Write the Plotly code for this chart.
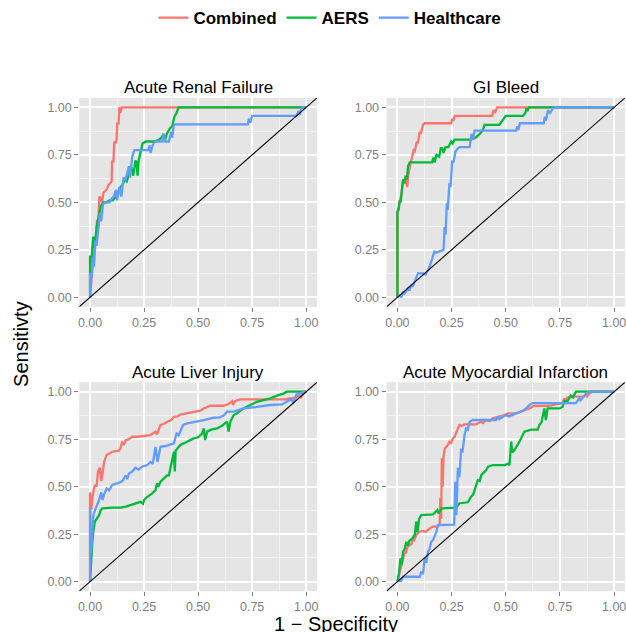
import plotly.graph_objects as go

# ---------------- data ----------------
series_names = ["Combined", "AERS", "Healthcare"]
series_colors = ["#F8766D", "#00BA38", "#619CFF"]
panel_titles = ["Acute Renal Failure", "GI Bleed", "Acute Liver Injury", "Acute Myocardial Infarction"]
tick_values = [0, 0.25, 0.5, 0.75, 1.0]
tick_labels = ["0.00", "0.25", "0.50", "0.75", "1.00"]
minor_grid_values = [0.125, 0.375, 0.625, 0.875]
AXIS_RANGE = [-0.05, 1.05]

# (1 - specificity, sensitivity) points
renal_combined = [(0, 0), (0.005, 0.1), (0.01, 0.14), (0.015, 0.2), (0.02, 0.24), (0.025, 0.31), (0.03, 0.28),
                  (0.032, 0.41), (0.038, 0.38), (0.043, 0.53), (0.05, 0.52), (0.055, 0.5), (0.062, 0.55),
                  (0.07, 0.56), (0.078, 0.57), (0.085, 0.59), (0.095, 0.6), (0.1, 0.61), (0.102, 0.72),
                  (0.108, 0.71), (0.112, 0.82), (0.118, 0.81), (0.123, 0.83), (0.126, 0.92), (0.132, 0.91),
                  (0.135, 1.0), (0.14, 0.97), (0.147, 1.0), (1.0, 1.0)]
renal_aers = [(0, 0), (0, 0.22), (0.005, 0.18), (0.01, 0.24), (0.015, 0.32), (0.02, 0.26), (0.025, 0.3),
              (0.03, 0.37), (0.038, 0.42), (0.045, 0.46), (0.05, 0.48), (0.06, 0.5), (0.075, 0.5), (0.09, 0.51),
              (0.105, 0.51), (0.12, 0.53), (0.13, 0.56), (0.14, 0.58), (0.15, 0.59), (0.16, 0.62), (0.17, 0.61),
              (0.18, 0.65), (0.19, 0.69), (0.2, 0.64), (0.21, 0.72), (0.215, 0.71), (0.22, 0.64), (0.225, 0.72),
              (0.235, 0.77), (0.243, 0.81), (0.26, 0.82), (0.3, 0.82), (0.32, 0.83), (0.33, 0.84), (0.34, 0.86),
              (0.345, 0.82), (0.355, 0.86), (0.37, 0.89), (0.38, 0.9), (0.39, 0.95), (0.4, 0.97), (0.41, 1.0),
              (1.0, 1.0)]
renal_healthcare = [(0, 0), (0, 0.13), (0.008, 0.1), (0.012, 0.21), (0.018, 0.16), (0.025, 0.3), (0.03, 0.27),
                    (0.038, 0.37), (0.046, 0.44), (0.052, 0.4), (0.06, 0.49), (0.07, 0.5), (0.09, 0.5),
                    (0.1, 0.52), (0.11, 0.53), (0.12, 0.565), (0.125, 0.51), (0.135, 0.58), (0.145, 0.53),
                    (0.155, 0.63), (0.165, 0.62), (0.18, 0.69), (0.185, 0.63), (0.195, 0.74), (0.205, 0.775),
                    (0.27, 0.775), (0.275, 0.8), (0.28, 0.76), (0.29, 0.8), (0.3, 0.82), (0.335, 0.82),
                    (0.34, 0.86), (0.348, 0.82), (0.365, 0.82), (0.375, 0.87), (0.38, 0.84), (0.388, 0.91),
                    (0.73, 0.91), (0.735, 0.94), (0.742, 0.92), (0.75, 0.955), (0.955, 0.955), (0.965, 0.98),
                    (0.97, 0.96), (0.98, 1.0), (1.0, 1.0)]

gi_combined = [(0, 0), (0, 0.45), (0.01, 0.5), (0.018, 0.54), (0.026, 0.62), (0.035, 0.6), (0.041, 0.62),
               (0.045, 0.58), (0.05, 0.64), (0.055, 0.68), (0.06, 0.705), (0.068, 0.74), (0.075, 0.775),
               (0.08, 0.77), (0.09, 0.82), (0.095, 0.81), (0.102, 0.87), (0.108, 0.86), (0.118, 0.907),
               (0.125, 0.916), (0.248, 0.916), (0.253, 0.94), (0.258, 0.93), (0.265, 0.955), (0.437, 0.955),
               (0.443, 0.985), (0.45, 0.97), (0.46, 1.0), (1.0, 1.0)]
gi_aers = [(0, 0), (0, 0.45), (0.006, 0.46), (0.011, 0.51), (0.015, 0.5), (0.018, 0.54), (0.026, 0.62),
           (0.032, 0.6), (0.038, 0.64), (0.044, 0.62), (0.049, 0.69), (0.057, 0.71), (0.16, 0.71),
           (0.166, 0.735), (0.172, 0.71), (0.18, 0.75), (0.193, 0.74), (0.2, 0.785), (0.207, 0.785),
           (0.213, 0.76), (0.222, 0.79), (0.235, 0.79), (0.248, 0.82), (0.255, 0.81), (0.264, 0.83),
           (0.34, 0.83), (0.36, 0.84), (0.38, 0.86), (0.394, 0.88), (0.402, 0.907), (0.47, 0.907),
           (0.478, 0.92), (0.486, 0.935), (0.5, 0.955), (0.58, 0.955), (0.59, 0.97), (0.596, 0.995),
           (0.6, 0.98), (0.607, 1.0), (1.0, 1.0)]
gi_healthcare = [(0, 0), (0.01, 0.01), (0.018, 0.0), (0.026, 0.03), (0.033, 0.02), (0.049, 0.047),
                 (0.055, 0.035), (0.064, 0.065), (0.07, 0.055), (0.084, 0.1), (0.095, 0.126), (0.12, 0.126),
                 (0.13, 0.12), (0.146, 0.153), (0.152, 0.18), (0.161, 0.205), (0.17, 0.24), (0.18, 0.235),
                 (0.213, 0.25), (0.218, 0.37), (0.222, 0.33), (0.228, 0.495), (0.232, 0.46), (0.24, 0.6),
                 (0.245, 0.58), (0.248, 0.644), (0.253, 0.72), (0.258, 0.71), (0.268, 0.767), (0.279, 0.784),
                 (0.287, 0.79), (0.333, 0.79), (0.338, 0.83), (0.342, 0.86), (0.348, 0.83), (0.356, 0.877),
                 (0.548, 0.877), (0.553, 0.9), (0.558, 0.88), (0.565, 0.916), (0.675, 0.916), (0.68, 0.95),
                 (0.685, 0.93), (0.695, 0.985), (0.705, 0.97), (0.72, 1.0), (1.0, 1.0)]

liver_combined = [(0, 0), (0, 0.47), (0.006, 0.38), (0.012, 0.45), (0.02, 0.5), (0.026, 0.51), (0.03, 0.5),
                  (0.037, 0.58), (0.045, 0.6), (0.052, 0.53), (0.058, 0.57), (0.065, 0.63), (0.077, 0.667),
                  (0.09, 0.675), (0.103, 0.684), (0.134, 0.69), (0.14, 0.7), (0.149, 0.737), (0.157, 0.72),
                  (0.165, 0.745), (0.18, 0.75), (0.195, 0.763), (0.218, 0.763), (0.28, 0.772), (0.303, 0.79),
                  (0.31, 0.775), (0.326, 0.825), (0.34, 0.83), (0.357, 0.842), (0.375, 0.85), (0.388, 0.868),
                  (0.405, 0.87), (0.418, 0.88), (0.44, 0.885), (0.465, 0.89), (0.495, 0.895), (0.51, 0.9),
                  (0.526, 0.912), (0.542, 0.92), (0.557, 0.926), (0.618, 0.926), (0.64, 0.935), (0.657, 0.95),
                  (0.662, 0.93), (0.67, 0.95), (0.695, 0.96), (0.91, 0.96), (0.92, 0.965), (0.95, 0.965),
                  (0.965, 0.98), (0.975, 0.97), (0.988, 0.99), (1.0, 1.0)]
liver_aers = [(0, 0), (0.005, 0.12), (0.01, 0.2), (0.015, 0.263), (0.022, 0.316), (0.03, 0.33), (0.042, 0.35),
              (0.049, 0.377), (0.057, 0.386), (0.1, 0.39), (0.142, 0.39), (0.165, 0.395), (0.188, 0.403),
              (0.218, 0.412), (0.234, 0.42), (0.245, 0.41), (0.25, 0.43), (0.265, 0.447), (0.288, 0.465),
              (0.303, 0.482), (0.31, 0.518), (0.316, 0.5), (0.326, 0.526), (0.342, 0.544), (0.357, 0.56),
              (0.365, 0.56), (0.38, 0.63), (0.388, 0.684), (0.392, 0.58), (0.396, 0.69), (0.403, 0.7),
              (0.418, 0.72), (0.449, 0.737), (0.48, 0.754), (0.5, 0.76), (0.518, 0.78), (0.526, 0.807),
              (0.532, 0.746), (0.542, 0.79), (0.56, 0.8), (0.588, 0.807), (0.61, 0.82), (0.634, 0.842),
              (0.641, 0.79), (0.65, 0.845), (0.665, 0.877), (0.68, 0.886), (0.71, 0.912), (0.742, 0.93),
              (0.772, 0.947), (0.803, 0.956), (0.834, 0.965), (0.865, 0.979), (0.895, 0.99), (0.91, 1.0),
              (1.0, 1.0)]
liver_healthcare = [(0, 0), (0, 0.386), (0.005, 0.15), (0.01, 0.28), (0.015, 0.35), (0.026, 0.386),
                    (0.035, 0.41), (0.042, 0.43), (0.052, 0.47), (0.058, 0.43), (0.065, 0.46), (0.077, 0.49),
                    (0.088, 0.48), (0.103, 0.51), (0.126, 0.517), (0.15, 0.53), (0.165, 0.56), (0.172, 0.54),
                    (0.18, 0.57), (0.195, 0.58), (0.21, 0.6), (0.225, 0.59), (0.24, 0.605), (0.265, 0.614),
                    (0.28, 0.63), (0.29, 0.62), (0.303, 0.71), (0.312, 0.63), (0.326, 0.71), (0.357, 0.716),
                    (0.388, 0.728), (0.4, 0.78), (0.41, 0.77), (0.418, 0.79), (0.43, 0.825), (0.45, 0.833),
                    (0.488, 0.84), (0.526, 0.85), (0.572, 0.863), (0.6, 0.865), (0.618, 0.874), (0.634, 0.895),
                    (0.665, 0.895), (0.688, 0.904), (0.711, 0.912), (0.772, 0.92), (0.834, 0.93), (0.888, 0.933),
                    (0.9, 0.94), (0.918, 0.95), (0.93, 0.96), (0.94, 0.945), (0.957, 0.99), (0.975, 0.99),
                    (0.99, 1.0), (1.0, 1.0)]

mi_combined = [(0, 0), (0.01, 0.05), (0.018, 0.09), (0.026, 0.123), (0.034, 0.158), (0.04, 0.15), (0.045, 0.18),
               (0.057, 0.193), (0.065, 0.2), (0.072, 0.228), (0.078, 0.22), (0.087, 0.246), (0.103, 0.263),
               (0.118, 0.267), (0.13, 0.262), (0.149, 0.28), (0.164, 0.29), (0.18, 0.29), (0.195, 0.298),
               (0.198, 0.44), (0.202, 0.33), (0.205, 0.65), (0.209, 0.5), (0.213, 0.66), (0.218, 0.7),
               (0.233, 0.72), (0.24, 0.737), (0.248, 0.73), (0.256, 0.754), (0.264, 0.763), (0.271, 0.79),
               (0.279, 0.807), (0.287, 0.825), (0.297, 0.82), (0.31, 0.828), (0.363, 0.828), (0.386, 0.842),
               (0.395, 0.835), (0.41, 0.851), (0.425, 0.845), (0.44, 0.86), (0.471, 0.868), (0.494, 0.877),
               (0.51, 0.886), (0.548, 0.886), (0.58, 0.9), (0.609, 0.912), (0.63, 0.925), (0.7, 0.925),
               (0.762, 0.94), (0.77, 0.965), (0.775, 0.95), (0.785, 0.97), (0.8, 0.974), (0.86, 0.974),
               (0.87, 0.985), (0.875, 0.975), (0.885, 0.99), (0.9, 1.0), (1.0, 1.0)]
mi_aers = [(0, 0), (0.008, 0.05), (0.014, 0.123), (0.02, 0.09), (0.026, 0.158), (0.033, 0.17), (0.041, 0.21),
           (0.048, 0.19), (0.055, 0.215), (0.069, 0.228), (0.08, 0.246), (0.087, 0.316), (0.093, 0.26),
           (0.1, 0.33), (0.11, 0.35), (0.164, 0.354), (0.184, 0.377), (0.19, 0.36), (0.205, 0.386),
           (0.248, 0.39), (0.271, 0.39), (0.287, 0.413), (0.325, 0.418), (0.34, 0.447), (0.35, 0.46),
           (0.371, 0.535), (0.38, 0.53), (0.387, 0.561), (0.41, 0.588), (0.418, 0.605), (0.44, 0.614),
           (0.494, 0.614), (0.51, 0.62), (0.517, 0.614), (0.525, 0.737), (0.53, 0.68), (0.54, 0.693),
           (0.563, 0.737), (0.586, 0.79), (0.617, 0.8), (0.647, 0.8), (0.655, 0.825), (0.665, 0.84),
           (0.678, 0.912), (0.685, 0.85), (0.693, 0.912), (0.747, 0.912), (0.762, 0.92), (0.77, 0.95),
           (0.785, 0.95), (0.8, 0.98), (0.81, 0.97), (0.824, 1.0), (1.0, 1.0)]
mi_healthcare = [(0, 0), (0.01, 0.01), (0.015, 0.0), (0.026, 0.026), (0.103, 0.026), (0.11, 0.053),
                 (0.118, 0.04), (0.126, 0.123), (0.133, 0.1), (0.141, 0.158), (0.148, 0.17), (0.156, 0.21),
                 (0.165, 0.22), (0.18, 0.263), (0.187, 0.298), (0.256, 0.298), (0.262, 0.3), (0.267, 0.526),
                 (0.272, 0.35), (0.279, 0.6), (0.286, 0.55), (0.294, 0.7), (0.3, 0.68), (0.31, 0.772),
                 (0.317, 0.807), (0.325, 0.8), (0.333, 0.842), (0.348, 0.851), (0.455, 0.851), (0.463, 0.868),
                 (0.47, 0.855), (0.5, 0.877), (0.515, 0.87), (0.548, 0.886), (0.58, 0.9), (0.594, 0.912),
                 (0.609, 0.93), (0.624, 0.94), (0.823, 0.94), (0.839, 0.965), (0.845, 0.955), (0.87, 0.99),
                 (0.885, 1.0), (1.0, 1.0)]

panel_series = [
    [renal_combined, renal_aers, renal_healthcare],
    [gi_combined, gi_aers, gi_healthcare],
    [liver_combined, liver_aers, liver_healthcare],
    [mi_combined, mi_aers, mi_healthcare],
]

# ---------------- layout geometry (pixels) ----------------
W, H = 626, 632
panel_px = [  # (left, right, top, bottom)
    (78.5, 317.0, 97.8, 306.8),
    (386.8, 626.0, 97.8, 306.8),
    (78.5, 317.0, 382.2, 591.2),
    (386.8, 626.0, 382.2, 591.2),
]
FONT = "Liberation Sans"

fig = go.Figure()
layout_axes = {}
annotations = []

for i, (series_list, (l, r, t, b)) in enumerate(zip(panel_series, panel_px)):
    n = i + 1
    xa = "x" if n == 1 else f"x{n}"
    ya = "y" if n == 1 else f"y{n}"
    for name, color, pts in zip(series_names, series_colors, series_list):
        fig.add_trace(go.Scatter(
            x=[p[0] for p in pts], y=[p[1] for p in pts], mode="lines", name=name,
            line=dict(color=color, width=2.3), xaxis=xa, yaxis=ya,
            legendgroup=name, showlegend=(n == 1), hoverinfo="skip"))
    # reference diagonal across the full panel
    fig.add_trace(go.Scatter(x=AXIS_RANGE, y=AXIS_RANGE, mode="lines",
                             line=dict(color="black", width=1.1), xaxis=xa, yaxis=ya,
                             showlegend=False, hoverinfo="skip"))
    common = dict(
        range=AXIS_RANGE, tickmode="array", tickvals=tick_values, ticktext=tick_labels,
        showgrid=True, gridcolor="white", gridwidth=1.6, zeroline=False, showline=False,
        ticks="outside", ticklen=4, tickwidth=1, tickcolor="#7F7F7F",
        tickfont=dict(family=FONT, size=12.5, color="#7F7F7F"),
        ticklabeloverflow="allow",
        minor=dict(tickmode="array", tickvals=minor_grid_values, showgrid=True,
                   gridcolor="#F2F2F2", gridwidth=0.8, ticks=""),
        fixedrange=True,
    )
    layout_axes["xaxis" if n == 1 else f"xaxis{n}"] = dict(
        common, domain=[l / W, r / W], anchor=ya)
    layout_axes["yaxis" if n == 1 else f"yaxis{n}"] = dict(
        common, domain=[1 - b / H, 1 - t / H], anchor=xa)
    annotations.append(dict(
        text=panel_titles[i], x=(l + r) / 2 / W, y=1 - (t - 9.8) / H, xref="paper", yref="paper",
        xanchor="center", yanchor="middle", showarrow=False,
        font=dict(family=FONT, size=17, color="black")))

annotations.append(dict(text="Sensitivty", x=20 / W, y=1 - 344 / H, xref="paper", yref="paper",
                        xanchor="center", yanchor="middle", textangle=-90, showarrow=False,
                        font=dict(family=FONT, size=20, color="black")))
annotations.append(dict(text="1 − Specificity", x=336.5 / W, y=1 - 624 / H, xref="paper", yref="paper",
                        xanchor="center", yanchor="middle", showarrow=False,
                        font=dict(family=FONT, size=20, color="black")))

fig.update_layout(
    width=W, height=H, autosize=False,
    margin=dict(l=0, r=0, t=0, b=0),
    paper_bgcolor="white", plot_bgcolor="#E5E5E5",
    showlegend=True,
    legend=dict(orientation="h", x=330 / W, xanchor="center", y=1 - 18 / H, yanchor="middle",
                font=dict(family=FONT, size=17, color="black", weight="bold"),
                bgcolor="rgba(0,0,0,0)", itemwidth=30, tracegroupgap=0),
    annotations=annotations,
    **layout_axes,
)

# remove the browser's default page margin so the figure sits at the window's top-left corner
fig.write_html("out.html", config={"displayModeBar": False},
               post_script="document.body.style.margin='0px';document.body.style.overflow='hidden';")
